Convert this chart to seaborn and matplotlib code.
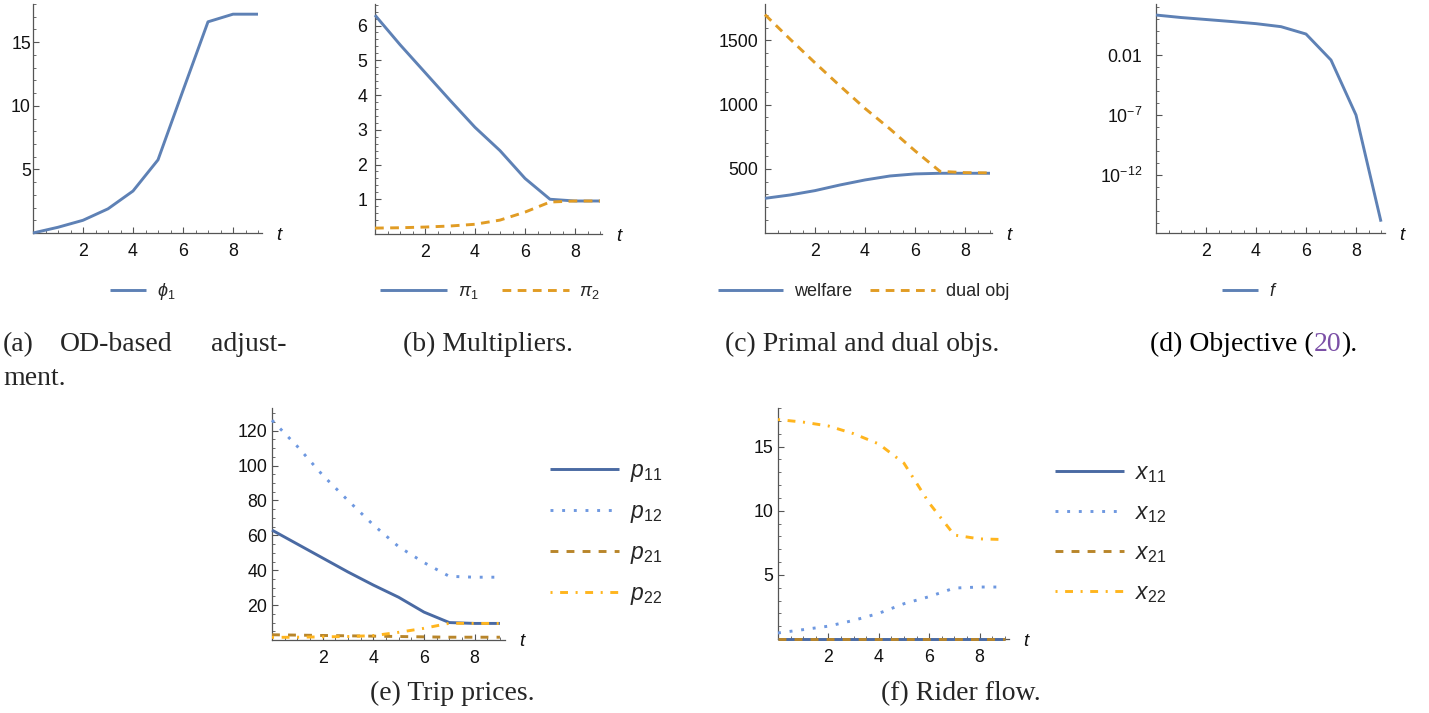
import numpy as np
import pandas as pd
import matplotlib
matplotlib.use("Agg")
import matplotlib.pyplot as plt
import seaborn as sns
from matplotlib.ticker import FixedLocator, FixedFormatter, MultipleLocator, NullFormatter

# ---------------- data ----------------
t = [0, 1, 2, 3, 4, 5, 6, 7, 8, 9]
phi1 = [0.0, 0.45, 1.0, 1.9, 3.3, 5.75, 11.2, 16.6, 17.2, 17.2]
pi1 = [6.3, 5.45, 4.65, 3.85, 3.07, 2.4, 1.6, 1.0, 0.95, 0.95]
pi2 = [0.17, 0.18, 0.2, 0.23, 0.28, 0.4, 0.63, 0.92, 0.95, 0.95]
welfare = [270, 296, 330, 374, 413, 444, 460, 465, 465, 465]
dual_obj = [1700, 1510, 1325, 1145, 970, 810, 640, 480, 470, 468]
f_obj = [21.4, 13.3, 9.1, 6.2, 4.1, 2.3, 0.56, 3.8e-3, 1.0e-7, 1.3e-16]
p11 = [63, 55, 47, 39, 31.5, 24.5, 16, 10, 9.5, 9.5]
p12 = [126, 111, 94.5, 80, 66, 53.5, 44.4, 36.5, 36, 36]
p21 = [3.0, 2.8, 2.6, 2.4, 2.2, 2.0, 1.8, 1.6, 1.6, 1.6]
p22 = [1.5, 1.6, 1.8, 2.0, 2.5, 4.4, 6.7, 9.6, 9.5, 9.5]
x11 = [0, 0, 0, 0, 0, 0, 0, 0, 0, 0]
x12 = [0.47, 0.73, 1.0, 1.45, 2.0, 2.75, 3.3, 3.97, 4.05, 4.05]
x21 = [0, 0, 0, 0, 0, 0, 0, 0, 0, 0]
x22 = [17.1, 16.9, 16.6, 16.0, 15.2, 13.7, 10.6, 8.1, 7.8, 7.75]

x_major = [2, 4, 6, 8]
x_major_labels = ["2", "4", "6", "8"]

captions = {
    "b": "(b) Multipliers.",
    "c": "(c) Primal and dual objs.",
    "e": "(e) Trip prices.",
    "f": "(f) Rider flow.",
}

# ---------------- style ----------------
sns.set_style("ticks")
plt.rcParams["font.family"] = ["Liberation Sans", "DejaVu Sans"]
plt.rcParams["mathtext.fontset"] = "custom"
plt.rcParams["mathtext.rm"] = "Liberation Sans"
plt.rcParams["mathtext.it"] = "Liberation Sans:italic"
plt.rcParams["mathtext.bf"] = "Liberation Sans:bold"

BLUE = "#5E81B5"
ORANGE = "#E19C24"
C11 = "#4A6AA3"
C12 = "#6E98E0"
C21 = "#B8852A"
C22 = "#FFB51E"
AXC = "#555555"
LW = 2.1

W, H = 1429, 713
fig = plt.figure(figsize=(W / 100, H / 100), dpi=100)


def add_ax(l, tp, r, b):
    return fig.add_axes([l / W, 1 - b / H, (r - l) / W, (b - tp) / H])


def style(ax, xlim, ylim, ypad, ymaj=None, ylab=None, ymin=None, log=False):
    ax.set_xlim(*xlim)
    ax.set_ylim(*ylim)
    for s in ["top", "right"]:
        ax.spines[s].set_visible(False)
    for s in ["left", "bottom"]:
        ax.spines[s].set_color(AXC)
        ax.spines[s].set_linewidth(0.9)
        ax.spines[s].set_zorder(1)
    ax.xaxis.set_major_locator(FixedLocator(x_major))
    ax.xaxis.set_major_formatter(FixedFormatter(x_major_labels))
    ax.xaxis.set_minor_locator(MultipleLocator(0.5))
    if not log:
        ax.yaxis.set_major_locator(FixedLocator(ymaj))
        ax.yaxis.set_major_formatter(FixedFormatter(ylab))
        ax.yaxis.set_minor_locator(MultipleLocator(ymin))
    ax.tick_params(which="major", direction="in", length=4.5, width=0.8, color=AXC,
                   labelsize=12.8, labelcolor="#111111")
    ax.tick_params(which="minor", direction="in", length=2.5, width=0.6, color=AXC)
    ax.tick_params(axis="x", which="major", pad=7)
    ax.tick_params(axis="y", which="major", pad=ypad)
    ax.set_xlabel("")
    ax.set_ylabel("")
    ax.set_facecolor("none")
    ax.annotate("t", xy=(1, 0), xycoords="axes fraction", xytext=(14, -2),
                textcoords="offset pixels", ha="left", va="center",
                style="italic", fontsize=13.5, color="#111111")


def line(ax, y, color, ls="-", lw=LW):
    df = pd.DataFrame({"t": t, "v": y})
    sns.lineplot(data=df, x="t", y="v", ax=ax, color=color, linestyle=ls,
                 linewidth=lw, legend=False, clip_on=False, zorder=3,
                 solid_capstyle="butt", dash_capstyle="butt")
    return ax.lines[-1]


def fx(x):
    return x / W


def fy(y):
    return 1 - y / H


# (a)
axa = add_ax(33, 4, 262, 233)
la = line(axa, phi1, BLUE)
style(axa, (0, 9.16), (0, 18.0), 1.5, [5, 10, 15], ["5", "10", "15"], 1)

# (b)
axb = add_ax(375, 4, 602, 234)
lb1 = line(axb, pi1, BLUE)
lb2 = line(axb, pi2, ORANGE, ls=(0, (3, 2.2)))
style(axb, (0, 9.08), (0, 6.62), 5.5, [1, 2, 3, 4, 5, 6], ["1", "2", "3", "4", "5", "6"], 0.2)

# (c)
axc = add_ax(765, 4, 992, 233)
lc1 = line(axc, welfare, BLUE)
lc2 = line(axc, dual_obj, ORANGE, ls=(0, (3, 2.2)))
style(axc, (0, 9.08), (0, 1783), 5, [500, 1000, 1500], ["500", "1000", "1500"], 100)

# (d)
axd = add_ax(1156, 4, 1385, 233)
axd.set_yscale("log")
ld = line(axd, f_obj, BLUE)
style(axd, (0, 9.16), (10 ** -16.83, 10 ** 2.25), 10, log=True)
axd.yaxis.set_major_locator(FixedLocator([1e-2, 1e-7, 1e-12]))
axd.yaxis.set_major_formatter(FixedFormatter(["0.01", r"$10^{-7}$", r"$10^{-12}$"]))
axd.yaxis.set_minor_locator(FixedLocator([10.0 ** k for k in range(-16, 3)]))
axd.yaxis.set_minor_formatter(NullFormatter())

# (e)
axe = add_ax(272, 408, 505, 640)
le1 = line(axe, p11, C11)
le2 = line(axe, p12, C12, ls=(0, (1, 3)))
le3 = line(axe, p21, C21, ls=(0, (2.7, 2.8)))
le4 = line(axe, p22, C22, ls=(0, (0.7, 2.6, 2.7, 2.6)))
style(axe, (0, 9.2), (0, 133), 3.5, [20, 40, 60, 80, 100, 120],
      ["20", "40", "60", "80", "100", "120"], 5)

# (f)
axf = add_ax(778, 408, 1009, 639)
lf1 = line(axf, x11, C11)
lf2 = line(axf, x12, C12, ls=(0, (1, 3)))
lf3 = line(axf, x21, C21, ls=(0, (2.7, 2.8)))
lf4 = line(axf, x22, C22, ls=(0, (0.7, 2.6, 2.7, 2.6)))
style(axf, (0, 9.17), (0, 18.0), 3.5, [5, 10, 15], ["5", "10", "15"], 1)

# ---------------- legends ----------------
common = dict(frameon=False, borderpad=0, borderaxespad=0, handletextpad=0.6)
fig.legend([la], [r"$\phi_1$"], loc="center", bbox_to_anchor=(fx(143), fy(292)),
           fontsize=13, handlelength=2.0, **common)
fig.legend([lb1, lb2], [r"$\pi_1$", r"$\pi_2$"], loc="center", bbox_to_anchor=(fx(490), fy(292)),
           fontsize=13, ncol=2, handlelength=3.7, columnspacing=1.3, **common)
fig.legend([lc1, lc2], ["welfare", "dual obj"], loc="center", bbox_to_anchor=(fx(864), fy(292)),
           fontsize=13, ncol=2, handlelength=3.6, columnspacing=1.0, **common)
fig.legend([ld], [r"$f$"], loc="center", bbox_to_anchor=(fx(1250), fy(292)),
           fontsize=13, handlelength=2.0, **common)

fig.legend([le1, le2, le3, le4], [r"$p_{11}$", r"$p_{12}$", r"$p_{21}$", r"$p_{22}$"],
           loc="center left", bbox_to_anchor=(fx(550), fy(533)), fontsize=16.5,
           handlelength=3.0, labelspacing=0.7, frameon=False, borderpad=0,
           borderaxespad=0, handletextpad=0.5)
fig.legend([lf1, lf2, lf3, lf4], [r"$x_{11}$", r"$x_{12}$", r"$x_{21}$", r"$x_{22}$"],
           loc="center left", bbox_to_anchor=(fx(1055), fy(533)), fontsize=16.5,
           handlelength=3.0, labelspacing=0.7, frameon=False, borderpad=0,
           borderaxespad=0, handletextpad=0.5)

# ---------------- captions ----------------
SERIF = ["Liberation Serif", "DejaVu Serif"]
CAP = 20
TOPY = 351
fig.text(fx(3), fy(TOPY), "(a)", ha="left", va="baseline", family=SERIF, fontsize=CAP)
fig.text(fx(60), fy(TOPY), "OD-based", ha="left", va="baseline", family=SERIF, fontsize=CAP)
fig.text(fx(286), fy(TOPY), "adjust-", ha="right", va="baseline", family=SERIF, fontsize=CAP)
fig.text(fx(3), fy(385), "ment.", ha="left", va="baseline", family=SERIF, fontsize=CAP)
fig.text(fx(488), fy(TOPY), captions["b"], ha="center", va="baseline", family=SERIF, fontsize=CAP)
fig.text(fx(862), fy(TOPY), captions["c"], ha="center", va="baseline", family=SERIF, fontsize=CAP)
fig.text(fx(452), fy(700), captions["e"], ha="center", va="baseline", family=SERIF, fontsize=CAP)
fig.text(fx(961), fy(700), captions["f"], ha="center", va="baseline", family=SERIF, fontsize=CAP)

# (d) caption with coloured reference number
fig.canvas.draw()
renderer = fig.canvas.get_renderer()
x0 = 1150
parts = [("(d) Objective (", "black"), ("20", "#7B4FA6"), (").", "black")]
for s, c in parts:
    tx = fig.text(fx(x0), fy(TOPY), s, ha="left", va="baseline", family=SERIF,
                  fontsize=CAP, color=c)
    bb = tx.get_window_extent(renderer)
    x0 += bb.width

fig.savefig("out.png", dpi=100)
